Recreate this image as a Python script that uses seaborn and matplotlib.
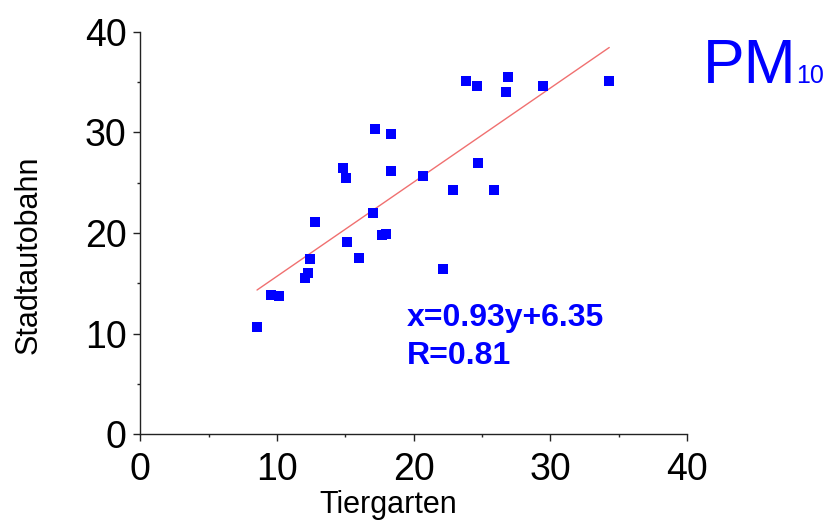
import numpy as np
import pandas as pd
import matplotlib
matplotlib.use("Agg")
import matplotlib.pyplot as plt
import seaborn as sns
from matplotlib.ticker import MultipleLocator

# Data
tiergarten = [17.15, 18.37, 14.80, 15.04, 18.37, 20.71, 22.85, 17.06, 12.75, 17.72,
              17.98, 15.16, 15.99, 12.43, 22.12, 12.24, 12.07, 9.54, 10.12, 8.54,
              23.80, 24.67, 26.88, 26.77, 29.49, 34.31, 24.72, 25.89]
stadtautobahn = [30.29, 29.79, 26.41, 25.45, 26.18, 25.65, 24.29, 21.98, 21.11, 19.79,
                 19.92, 19.10, 17.48, 17.41, 16.39, 16.02, 15.52, 13.86, 13.76, 10.69,
                 35.08, 34.62, 35.48, 33.96, 34.59, 35.08, 26.91, 24.29]
fit_slope = 0.935
fit_intercept = 6.35
eq_label = "x=0.93y+6.35"
r_label = "R=0.81"
xticks = [0, 10, 20, 30, 40]
yticks = [0, 10, 20, 30, 40]

df = pd.DataFrame({"Tiergarten": tiergarten, "Stadtautobahn": stadtautobahn})
xs = np.array([min(tiergarten), max(tiergarten)])
line_df = pd.DataFrame({"x": xs, "y": fit_slope * xs + fit_intercept})

sns.set_theme(style="white")
plt.rcParams["font.family"] = ["Liberation Sans", "DejaVu Sans"]

fig = plt.figure(figsize=(8.33, 5.22), dpi=100)
ax = fig.add_axes([140.3 / 833, 1 - 434.3 / 522, (687 - 140.3) / 833, (434.3 - 31.7) / 522])

sns.lineplot(data=line_df, x="x", y="y", color="#F07070", linewidth=1.0, ax=ax)
sns.scatterplot(data=df, x="Tiergarten", y="Stadtautobahn", marker="s", s=42,
                color="#0000FF", linewidth=0, ax=ax, zorder=3)

ax.set_xlim(0, 40)
ax.set_ylim(0, 40)
ax.set_xticks(xticks)
ax.set_yticks(yticks)
ax.xaxis.set_minor_locator(MultipleLocator(5))
ax.yaxis.set_minor_locator(MultipleLocator(5))
for s in ["top", "right"]:
    ax.spines[s].set_visible(False)
for s in ["left", "bottom"]:
    ax.spines[s].set_color("#222222")
    ax.spines[s].set_linewidth(1.0)
ax.tick_params(axis="both", which="major", direction="out", length=5, width=1.0,
               color="#222222", labelsize=27, labelcolor="black", pad=5,
               bottom=True, left=True)
ax.tick_params(axis="x", which="major", pad=7.5)
ax.tick_params(axis="both", which="minor", direction="out", length=2.5, width=1.0,
               color="#222222", bottom=True, left=True)
ax.set_xlabel("Tiergarten", fontsize=22, color="black")
ax.set_ylabel("Stadtautobahn", fontsize=22, color="black")
ax.xaxis.set_label_coords(0.453, -0.138)
ax.yaxis.set_label_coords(-0.176, 0.445)

fig.text(407 / 833, 1 - 326 / 522, eq_label, fontsize=23, fontweight="bold",
         color="#0000FF", ha="left", va="baseline")
fig.text(407 / 833, 1 - 364 / 522, r_label, fontsize=23, fontweight="bold",
         color="#0000FF", ha="left", va="baseline")
fig.text(703 / 833, 1 - 83 / 522, "PM", fontsize=45, color="#0000FF",
         ha="left", va="baseline")
fig.text(796 / 833, 1 - 83 / 522, "10", fontsize=18, color="#0000FF",
         ha="left", va="baseline")

fig.savefig("out.png", dpi=100, facecolor="white")
